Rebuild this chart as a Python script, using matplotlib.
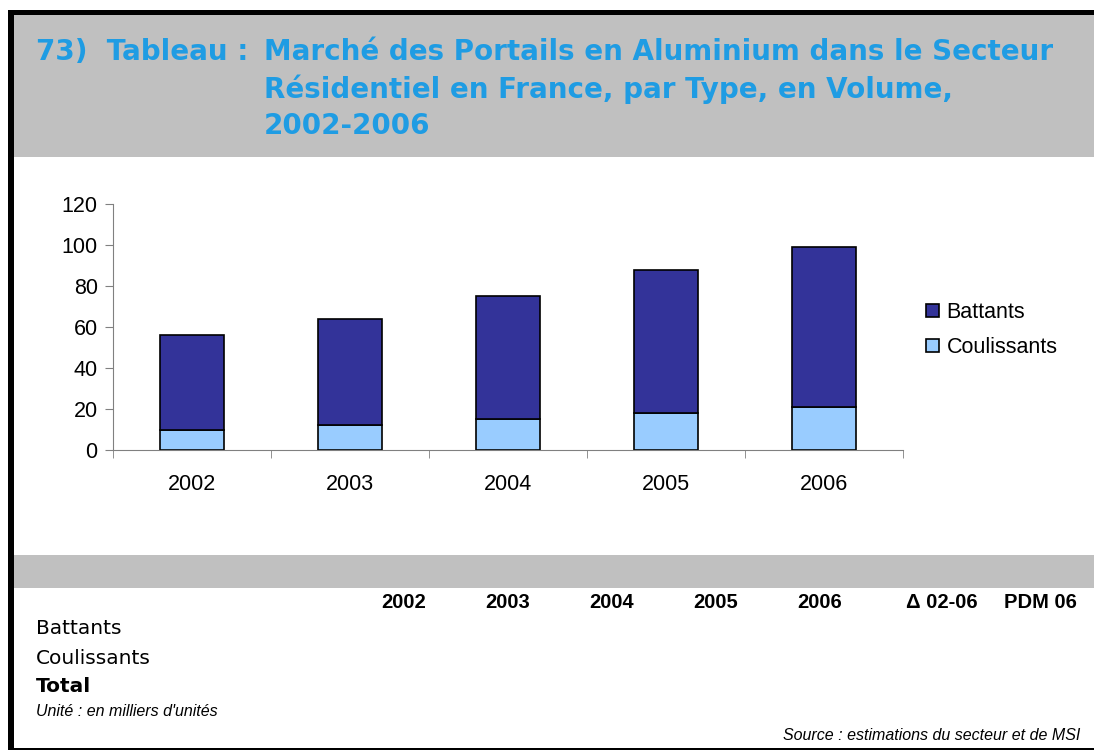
import numpy as np
import matplotlib.pyplot as plt
from matplotlib.patches import Rectangle

# data (milliers d'unités)
years = ["2002", "2003", "2004", "2005", "2006"]
coulissants = [10, 12, 15, 18, 21]
battants = [46, 52, 60, 70, 78]
table_headers = ["2002", "2003", "2004", "2005", "2006", "\u0394 02-06", "PDM 06"]
row_labels = ["Battants", "Coulissants", "Total"]

W, H = 1094, 751
fig = plt.figure(figsize=(W / 100, H / 100), dpi=100)
fig.patch.set_facecolor("white")


def fx(px):
    return px / W


def fy(py):
    return 1 - py / H


# frame and grey bands
fig.add_artist(Rectangle((fx(14), fy(157)), fx(W - 14), (157 - 15) / H,
                         transform=fig.transFigure, color="#c0c0c0", lw=0))
fig.add_artist(Rectangle((fx(14), fy(588)), fx(W - 14), (588 - 555) / H,
                         transform=fig.transFigure, color="#c0c0c0", lw=0))
fig.add_artist(Rectangle((fx(8), fy(15)), fx(W - 8), 5 / H,
                         transform=fig.transFigure, color="black", lw=0))
fig.add_artist(Rectangle((fx(8), fy(750)), fx(6), (750 - 10) / H,
                         transform=fig.transFigure, color="black", lw=0))
fig.add_artist(Rectangle((fx(8), fy(750)), fx(W - 8), 2 / H,
                         transform=fig.transFigure, color="black", lw=0))

# title
title_kw = dict(color="#1f9ce3", fontsize=20, fontweight="bold",
                family="DejaVu Sans", va="center", ha="left")
fig.text(fx(36), fy(52), "73)  Tableau :", **title_kw)
fig.text(fx(264), fy(52), "Marché des Portails en Aluminium dans le Secteur", **title_kw)
fig.text(fx(264), fy(89), "Résidentiel en France, par Type, en Volume,", **title_kw)
fig.text(fx(264), fy(126), "2002-2006", **title_kw)

# chart
ax = fig.add_axes([fx(113), fy(450), fx(903 - 113), (450 - 204) / H])
x = np.arange(len(years))
ax.bar(x, coulissants, width=0.4, color="#99ccff", edgecolor="black",
       linewidth=1.2, label="Coulissants")
ax.bar(x, battants, width=0.4, bottom=coulissants, color="#333399",
       edgecolor="black", linewidth=1.2, label="Battants")
ax.set_xlim(-0.5, len(years) - 0.5)
ax.set_ylim(0, 120)
ax.set_yticks(range(0, 121, 20))
ax.set_xticks(x)
ax.set_xticklabels(years)
ax.set_xticks(np.arange(-0.5, len(years)), minor=True)
ax.tick_params(axis="x", which="major", length=0, pad=17, labelsize=15.5)
ax.tick_params(axis="x", which="minor", length=6, color="#808080", direction="out")
ax.tick_params(axis="y", length=6, color="#808080", labelsize=15.5, pad=5)
for lab in ax.get_xticklabels() + ax.get_yticklabels():
    lab.set_family("Liberation Sans")
for s in ["top", "right"]:
    ax.spines[s].set_visible(False)
for s in ["left", "bottom"]:
    ax.spines[s].set_color("#808080")

handles, labels = ax.get_legend_handles_labels()
leg = fig.legend(handles[::-1], labels[::-1], loc="center left",
                 bbox_to_anchor=(fx(926), fy(330)), frameon=False,
                 prop={"family": "Liberation Sans", "size": 15.5},
                 handlelength=0.6, handleheight=0.6, handletextpad=0.35,
                 labelspacing=0.65, borderpad=0, borderaxespad=0)

# table
head_x = [404, 508, 612, 716, 820, 942, 1040]
for px, h in zip(head_x, table_headers):
    fig.text(fx(px), fy(603), h, ha="center", va="center", fontsize=14.5,
             fontweight="bold", family="Liberation Sans")
row_y = [629, 658, 687]
for py, lab in zip(row_y, row_labels):
    fig.text(fx(36), fy(py), lab, ha="left", va="center", fontsize=14.5,
             family="DejaVu Sans",
             fontweight="bold" if lab == "Total" else "normal")
fig.text(fx(36), fy(712), "Unité : en milliers d'unités", ha="left", va="center",
         fontsize=11.5, style="italic", family="Liberation Sans")
fig.text(fx(1080), fy(736), "Source : estimations du secteur et de MSI",
         ha="right", va="center", fontsize=11.5, style="italic",
         family="Liberation Sans")

fig.savefig("out.png", dpi=100)
